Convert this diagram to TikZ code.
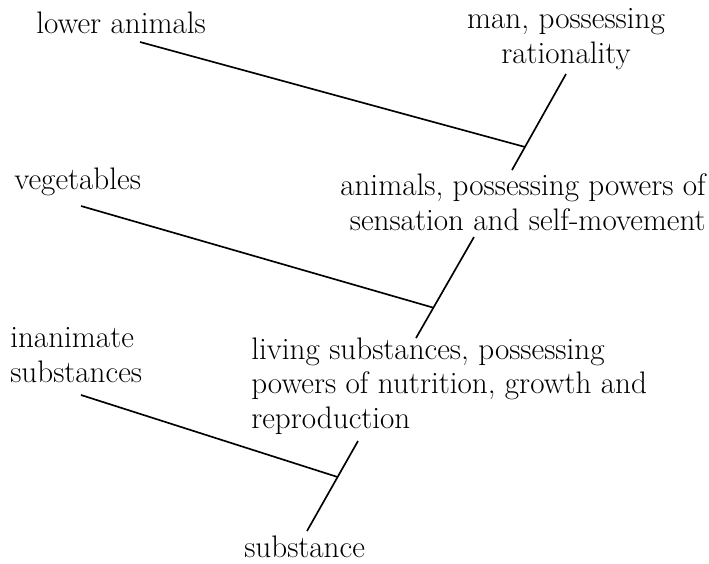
\documentclass[tikz,border=0pt]{standalone}
\usetikzlibrary{calc}
\begin{document}
\begin{tikzpicture}[x=0.0254cm,y=-0.0254cm,
  lbl/.style={inner sep=0pt, font=\fontsize{22.5}{24.8}\selectfont},
  link/.style={line width=1.2pt}]
\useasboundingbox (0,0) rectangle (709,563);
% labels
\node[lbl, anchor=base west] (lower) at (36,33) {lower animals};
\node[lbl, anchor=base, align=center] (man) at (566,63) {man, possessing\\rationality};
\node[lbl, anchor=base west] (veg) at (14,189) {vegetables};
\node[lbl, anchor=base east, align=right] (anim) at (706,230) {animals, possessing powers of\\sensation and self-movement};
\node[lbl, anchor=base west, align=left] (inan) at (10,382) {inanimate\\substances};
\node[lbl, anchor=base west, align=left] (living) at (251,428) {living substances, possessing\\powers of nutrition, growth and\\reproduction};
\node[lbl, anchor=base west] (subst) at (244,557) {substance};
% stems
\coordinate (m1top) at (566,74);  \coordinate (m1bot) at (512,170);
\coordinate (m2top) at (474,237); \coordinate (m2bot) at (416,338);
\coordinate (m3top) at (358,441); \coordinate (m3bot) at (307,531);
\coordinate (j1) at ($(m1top)!0.76!(m1bot)$);
\coordinate (j2) at ($(m2top)!0.70!(m2bot)$);
\coordinate (j3) at ($(m3top)!0.40!(m3bot)$);
\coordinate (b1) at (140,42);
\coordinate (b2) at (81,206);
\coordinate (b3) at (81,395);
\draw[link] (m1top) -- (m1bot);
\draw[link] (m2top) -- (m2bot);
\draw[link] (m3top) -- (m3bot);
% branches
\draw[link] (b1) -- (j1);
\draw[link] (b2) -- (j2);
\draw[link] (b3) -- (j3);
\end{tikzpicture}
\end{document}
